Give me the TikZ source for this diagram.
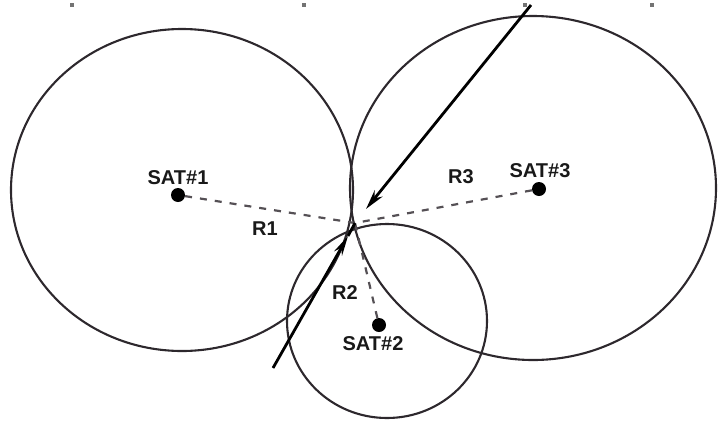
\documentclass[tikz,border=0pt]{standalone}
\usepackage{fontspec}
\setmainfont{Liberation Sans}
\usetikzlibrary{arrows.meta}
\definecolor{circ}{RGB}{45,40,45}
\definecolor{dashc}{RGB}{85,80,85}
\begin{document}
\begin{tikzpicture}[x=1pt,y=-1pt,
  orbit/.style={draw=circ,line width=2.1pt},
  rangeline/.style={draw=dashc,line width=2.2pt,dash pattern=on 7pt off 8pt},
  satdot/.style={circle,fill=black,inner sep=0pt,minimum size=14pt},
  lbl/.style={font=\fontsize{20}{22}\selectfont\bfseries,inner sep=0pt,text=black!90},
  ray/.style={draw=black,line width=2.8pt},
  tick/.style={fill=black!55,inner sep=0pt,minimum size=3.5pt}]
\useasboundingbox (0,0) rectangle (718,421);
% tick marks along top
\node[tick] (t1) at (72,5) {};
\node[tick] (t2) at (304,5) {};
\node[tick] (t3) at (525,5) {};
\node[tick] (t4) at (652,5) {};
% circles
\draw[orbit] (182,190) ellipse [x radius=171, y radius=161];
\draw[orbit] (533,188) ellipse [x radius=183, y radius=172];
\draw[orbit] (387,321) ellipse [x radius=100, y radius=97];
% satellites
\node[satdot] (s1) at (178,195) {};
\node[satdot] (s3) at (539,189) {};
\node[satdot] (s2) at (379,325) {};
\coordinate (p) at (355,223);
% range lines
\draw[rangeline] (s1) -- (p);
\draw[rangeline] (s3) -- (p);
\draw[rangeline] (s2) -- (p);
% labels
\node[lbl] (l1) at (178,178) {SAT\#1};
\node[lbl] (l3) at (540,171) {SAT\#3};
\node[lbl] (l2) at (373,344) {SAT\#2};
\node[lbl] (r1) at (265,229) {R1};
\node[lbl] (r3) at (461,177) {R3};
\node[lbl] (r2) at (345,293) {R2};
% arrows
\coordinate (a1s) at (531,5);
\coordinate (a1e) at (366,209);
\draw[ray,-{Stealth[length=20pt,width=10pt]}] (a1s) -- (a1e);
\coordinate (a2s) at (273,368);
\coordinate (a2m) at (348,236);
\draw[ray,-{Stealth[length=20pt,width=9pt]}] (a2s) -- (a2m);
\draw[ray] (a2m) -- (p);
\end{tikzpicture}
\end{document}
